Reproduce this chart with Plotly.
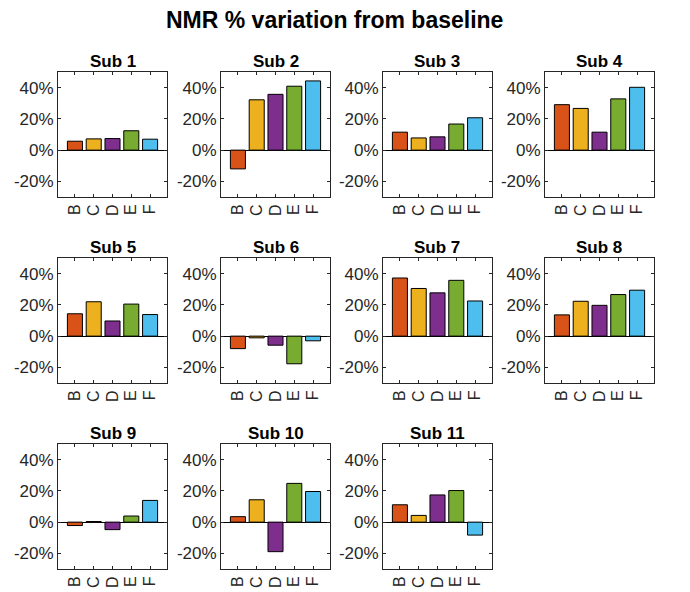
import plotly.graph_objects as go

# Percentage change of NMR measurements relative to baseline, per subject
categories = ["B", "C", "D", "E", "F"]
bar_colors = ["#D95319", "#EDB120", "#7E2F8E", "#77AC30", "#4DBEEE"]

sub_01 = [5.7, 7.2, 7.4, 12.4, 7.0]
sub_02 = [-12.0, 32.2, 35.7, 40.9, 44.3]
sub_03 = [11.5, 7.8, 8.5, 16.7, 20.7]
sub_04 = [29.1, 26.7, 11.5, 32.8, 40.2]
sub_05 = [14.3, 22.0, 9.7, 20.5, 13.8]
sub_06 = [-8.0, -1.1, -5.8, -17.7, -3.0]
sub_07 = [37.2, 30.5, 27.7, 35.7, 22.5]
sub_08 = [13.6, 22.3, 19.7, 26.6, 29.4]
sub_09 = [-2.2, 0.4, -4.8, 3.9, 13.9]
sub_10 = [3.5, 14.3, -18.9, 24.8, 19.6]
sub_11 = [11.1, 4.3, 17.4, 20.2, -8.3]

subjects = [sub_01, sub_02, sub_03, sub_04, sub_05, sub_06,
            sub_07, sub_08, sub_09, sub_10, sub_11]
titles = [f"Sub {i + 1}" for i in range(len(subjects))]

y_ticks = [-20, 0, 20, 40]
y_tick_labels = ["-20%", "0%", "20%", "40%"]

W, H = 690, 592
col_left = [58, 221, 383, 545]
row_top = [72, 258, 444]
ax_w, ax_h = 109, 125

FONT = "Liberation Sans, Arial, Helvetica, sans-serif"
AX_COLOR = "#262626"

fig = go.Figure()
annotations = []
layout_axes = {}

for i, vals in enumerate(subjects):
    r, c = divmod(i, 4)
    n = i + 1
    xa = "x" if n == 1 else f"x{n}"
    ya = "y" if n == 1 else f"y{n}"
    fig.add_trace(go.Bar(
        x=categories, y=vals,
        marker=dict(color=bar_colors, line=dict(color="black", width=1)),
        width=0.8,
        xaxis=xa, yaxis=ya,
        showlegend=False,
    ))
    x0 = col_left[c] / W
    x1 = (col_left[c] + ax_w) / W
    y1 = 1 - row_top[r] / H
    y0 = 1 - (row_top[r] + ax_h) / H
    key_x = "xaxis" if n == 1 else f"xaxis{n}"
    key_y = "yaxis" if n == 1 else f"yaxis{n}"
    layout_axes[key_x] = dict(
        domain=[x0, x1], anchor=ya,
        type="category", range=[-0.9, 4.9],
        tickmode="array", tickvals=categories, ticktext=categories,
        showline=True, mirror="ticks", linecolor=AX_COLOR, linewidth=1,
        ticks="inside", ticklen=3, tickcolor=AX_COLOR,
        tickangle=-90, tickfont=dict(family=FONT, size=16, color=AX_COLOR),
        showgrid=False, zeroline=False,
    )
    layout_axes[key_y] = dict(
        domain=[y0, y1], anchor=xa,
        range=[-30, 50], tickmode="array",
        tickvals=y_ticks, ticktext=y_tick_labels,
        showline=True, mirror="ticks", linecolor=AX_COLOR, linewidth=1,
        ticks="inside", ticklen=3, tickcolor=AX_COLOR,
        tickfont=dict(family=FONT, size=17, color=AX_COLOR),
        showgrid=False, zeroline=True, zerolinecolor="black", zerolinewidth=1,
    )
    annotations.append(dict(
        text=f"<b>{titles[i]}</b>",
        x=(x0 + x1) / 2, y=1 - (row_top[r] - 11) / H,
        xref="paper", yref="paper", xanchor="center", yanchor="middle",
        showarrow=False, font=dict(family=FONT, size=17, color="black"),
    ))

annotations.append(dict(
    text="<b>NMR % variation from baseline</b>",
    x=(163 + 506) / 2 / W, y=1 - 20 / H,
    xref="paper", yref="paper", xanchor="center", yanchor="middle",
    showarrow=False, font=dict(family=FONT, size=23, color="black"),
))

fig.update_layout(
    width=W, height=H,
    margin=dict(l=0, r=0, t=0, b=0),
    paper_bgcolor="white", plot_bgcolor="white",
    bargap=0.2,
    annotations=annotations,
    **layout_axes,
)

fig.write_html("out.html")
